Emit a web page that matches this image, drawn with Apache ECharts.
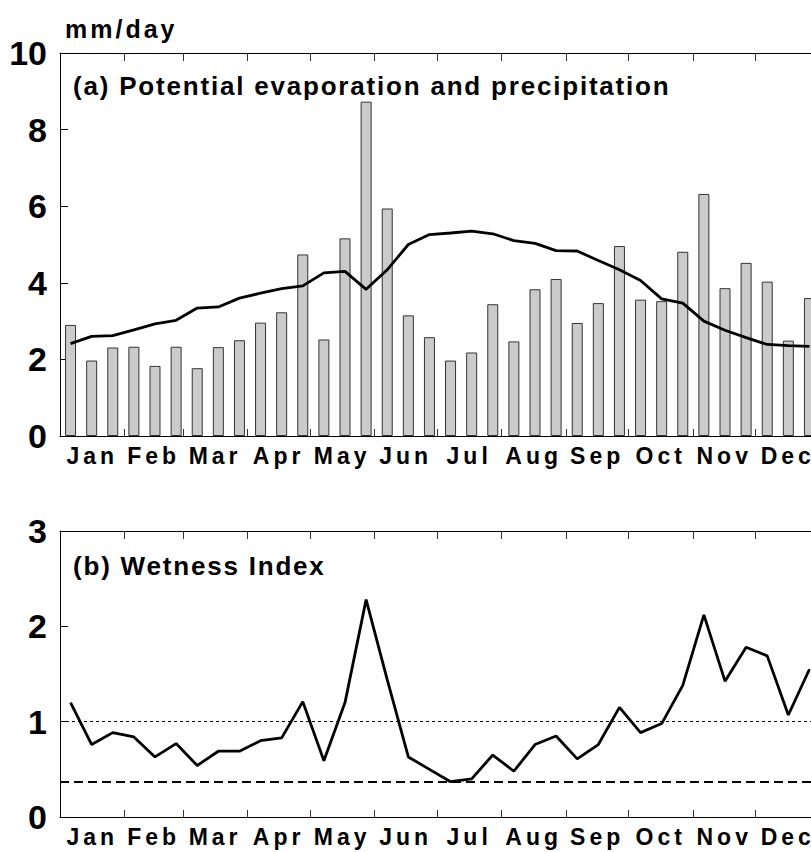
<!DOCTYPE html>
<html>
<head>
<meta charset="utf-8">
<script src="https://cdn.jsdelivr.net/npm/echarts@6/dist/echarts.min.js"></script>
<style>
  html, body { margin: 0; padding: 0; background: #fff; }
  #chart { width: 811px; height: 852px; }
  /* the original lettering is tracked out; digits are not */
  #chart text[style*="26px"] { letter-spacing: 1.8px; }
  #chart text[style*="25px"] { letter-spacing: 3px; }
  #chart text[style*="23px"] { letter-spacing: 4px; }
</style>
</head>
<body>
<div id="chart"></div>
<script>
// dekads (3 per month), 36 in a year
const months = ["Jan", "Feb", "Mar", "Apr", "May", "Jun", "Jul", "Aug", "Sep", "Oct", "Nov", "Dec"];
const dekads = [];
months.forEach(m => { dekads.push(m + "-1", m + "-2", m + "-3"); });

// day-of-year month boundaries and mid points
const monthEnds = [31, 59, 90, 120, 151, 181, 212, 243, 273, 304, 334];
const monthMids = [15.5, 45, 74.5, 105, 135.5, 166, 196.5, 227.5, 258, 288.5, 319, 349.5];

// (a) precipitation (bars) and potential evaporation (line), mm/day
const precip = [
  2.90, 1.97, 2.31, 2.33, 1.83, 2.33, 1.77, 2.32, 2.50, 2.96, 3.23, 4.74,
  2.52, 5.16, 8.73, 5.94, 3.15, 2.58, 1.97, 2.18, 3.44, 2.47, 3.83, 4.10,
  2.95, 3.47, 4.96, 3.56, 3.52, 4.81, 6.32, 3.86, 4.52, 4.03, 2.49, 3.60
];
const pet = [
  2.41, 2.60, 2.62, 2.77, 2.93, 3.02, 3.34, 3.37, 3.60, 3.73, 3.85, 3.92,
  4.26, 4.30, 3.83, 4.34, 5.00, 5.26, 5.30, 5.35, 5.28, 5.10, 5.03, 4.84,
  4.83, 4.58, 4.34, 4.06, 3.58, 3.47, 3.00, 2.76, 2.57, 2.39, 2.36, 2.34
];

// (b) wetness index
const wetness = [
  1.20, 0.76, 0.885, 0.84, 0.63, 0.77, 0.54, 0.69, 0.69, 0.80, 0.83, 1.21,
  0.59, 1.20, 2.28, 1.44, 0.63, 0.50, 0.37, 0.40, 0.65, 0.48, 0.76, 0.85,
  0.61, 0.76, 1.15, 0.885, 0.98, 1.38, 2.12, 1.425, 1.78, 1.69, 1.07, 1.55
];
const refDotted = 1;
const refDashed = 0.366;

const FONT = "Liberation Sans, Arial, sans-serif";

function monthAxes(gridIndex) {
  return [
    {
      // dekad categories carry the series
      type: "category", gridIndex, data: dekads, boundaryGap: true,
      axisLine: { show: true, lineStyle: { color: "#000", width: 1 } },
      axisTick: { show: false }, axisLabel: { show: false }
    },
    {
      // bottom month ticks and labels
      type: "value", gridIndex, min: 0, max: 365, position: "bottom",
      axisLine: { show: false }, splitLine: { show: false },
      axisTick: { show: true, inside: true, length: 7, customValues: monthEnds, lineStyle: { color: "#333" } },
      axisLabel: {
        show: true, customValues: monthMids, margin: 8,
        fontFamily: FONT, fontSize: 23, fontWeight: "bold", color: "#000",
        formatter: v => months[monthMids.indexOf(v)] || ""
      }
    },
    {
      // top frame with month ticks
      type: "value", gridIndex, min: 0, max: 365, position: "top",
      axisLine: { show: true, lineStyle: { color: "#000", width: 1 } },
      splitLine: { show: false },
      axisTick: { show: true, inside: true, length: 8, customValues: monthEnds, lineStyle: { color: "#333" } },
      axisLabel: { show: false }
    }
  ];
}

const chart = echarts.init(document.getElementById("chart"), null, { renderer: "svg" });

const yLabel = { fontFamily: FONT, fontSize: 34, fontWeight: "bold", color: "#000", margin: 13 };
const titleStyle = { fontFamily: FONT, fontSize: 26, fontWeight: "bold", color: "#000" };

const option = {
  animation: false,
  backgroundColor: "#fff",
  title: [
    { text: "mm/day", left: 65, top: 16, padding: 0, textStyle: { fontFamily: FONT, fontSize: 25, fontWeight: "bold", color: "#000" } },
    { text: "(a) Potential evaporation and precipitation", left: 73, top: 73, padding: 0, textStyle: titleStyle },
    { text: "(b) Wetness Index", left: 73, top: 553, padding: 0, textStyle: titleStyle }
  ],
  grid: [
    { left: 60, top: 53, width: 760, height: 383, outerBoundsMode: "none", containLabel: false },
    { left: 60, top: 531, width: 760, height: 286, outerBoundsMode: "none", containLabel: false }
  ],
  xAxis: [...monthAxes(0), ...monthAxes(1)],
  yAxis: [
    {
      type: "value", gridIndex: 0, min: 0, max: 10, interval: 2,
      axisLine: { show: true, lineStyle: { color: "#000", width: 1 } },
      axisTick: { show: true, inside: true, length: 8, lineStyle: { color: "#000" } },
      splitLine: { show: false },
      axisLabel: yLabel
    },
    {
      type: "value", gridIndex: 1, min: 0, max: 3, interval: 1,
      axisLine: { show: true, lineStyle: { color: "#000", width: 1 } },
      axisTick: { show: true, inside: true, length: 8, lineStyle: { color: "#000" } },
      splitLine: { show: false },
      axisLabel: yLabel
    }
  ],
  series: [
    {
      name: "Precipitation", type: "bar", xAxisIndex: 0, yAxisIndex: 0,
      data: precip, barWidth: 11,
      itemStyle: { color: "#cbcbcb", borderColor: "#333", borderWidth: 1 }
    },
    {
      name: "Potential evaporation", type: "line", xAxisIndex: 0, yAxisIndex: 0,
      data: pet, symbol: "none",
      lineStyle: { color: "#000", width: 2.8 }
    },
    {
      name: "Wetness index", type: "line", xAxisIndex: 3, yAxisIndex: 1,
      data: wetness, symbol: "none",
      lineStyle: { color: "#000", width: 2.8 },
      markLine: {
        silent: true, symbol: "none", label: { show: false },
        data: [
          { yAxis: refDotted, lineStyle: { color: "#000", width: 1, type: [3, 3] } },
          { yAxis: refDashed, lineStyle: { color: "#000", width: 2, type: [9, 5] } }
        ]
      }
    }
  ]
};

chart.setOption(option);
window.addEventListener("resize", () => chart.resize());
</script>
</body>
</html>
